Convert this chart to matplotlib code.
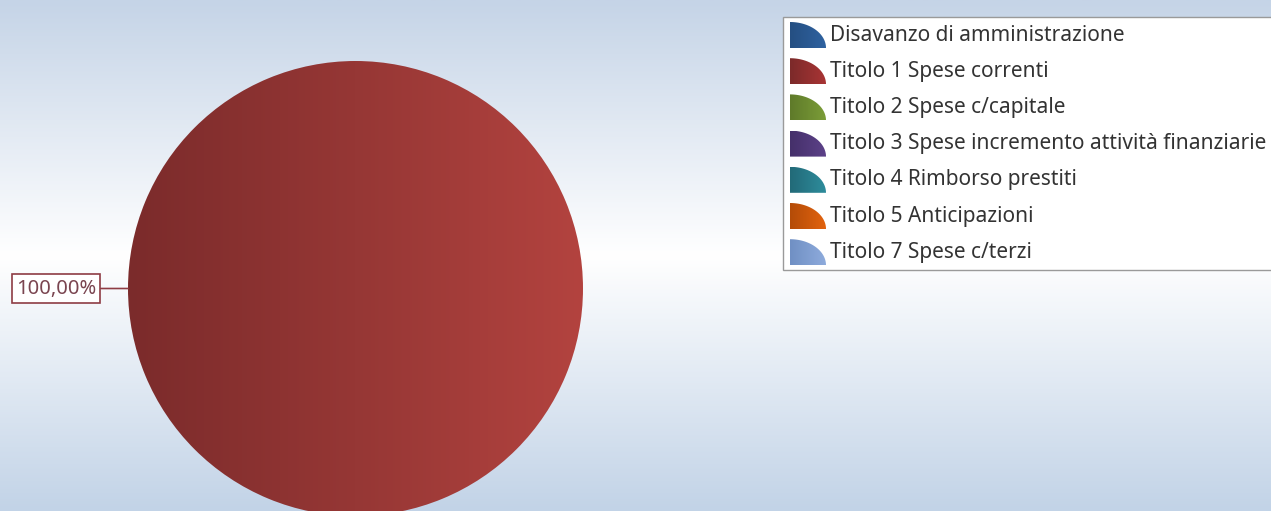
import numpy as np
import matplotlib.pyplot as plt
from matplotlib.patches import Wedge, Rectangle, Polygon
from matplotlib.colors import LinearSegmentedColormap

categories = [
    'Disavanzo di amministrazione',
    'Titolo 1 Spese correnti',
    'Titolo 2 Spese c/capitale',
    'Titolo 3 Spese incremento attività finanziarie',
    'Titolo 4 Rimborso prestiti',
    'Titolo 5 Anticipazioni',
    'Titolo 7 Spese c/terzi',
]
values = [0, 100, 0, 0, 0, 0, 0]
colors = ['#2f62a0', '#a83434', '#7b9d38', '#5c4188', '#2e8c9c', '#e2630f', '#8eabdc']
dark = ['#254f82', '#7c2a2a', '#5f7a2a', '#45306a', '#226a78', '#b44c08', '#7090c4']

W, H = 1271, 511
plt.rcParams['font.family'] = ['Noto Sans', 'DejaVu Sans']

fig = plt.figure(figsize=(W / 100, H / 100), dpi=100)
ax = fig.add_axes([0, 0, 1, 1])

# background: light blue top and bottom, white band in the middle
bg = LinearSegmentedColormap.from_list('bg', [(0, '#c2d3e7'), (0.5, '#ffffff'), (1, '#c5d4e7')])
ax.imshow(np.linspace(0, 1, 256).reshape(-1, 1), cmap=bg, aspect='auto',
          extent=(0, W, 0, H), zorder=0, origin='lower')

cx, cy, r = 355.5, 222.5, 227.5
wedges, _ = ax.pie(values, colors=colors, startangle=0, center=(cx, cy), radius=r,
                   wedgeprops=dict(linewidth=0))
ax.set_xlim(0, W)
ax.set_ylim(0, H)
ax.set_aspect('auto')
ax.axis('off')

# horizontal shading on the slices
shade = LinearSegmentedColormap.from_list('sh', ['#7b2b2b', '#963735', '#b3433f'])
for w, v in zip(wedges, values):
    if v == 0:
        continue
    w.set_facecolor('none')
    im = ax.imshow(np.linspace(0, 1, 256).reshape(1, -1), cmap=shade, aspect='auto',
                   extent=(cx - r, cx + r, cy - r, cy + r), zorder=2)
    im.set_clip_path(w)

# label for the non-zero slice
total = sum(values)
for w, v in zip(wedges, values):
    if v == 0:
        continue
    mid = np.deg2rad((w.theta1 + w.theta2) / 2)
    px, py = cx + r * np.cos(mid), cy + r * np.sin(mid)
    txt = ('%.2f%%' % (100 * v / total)).replace('.', ',')
    ax.annotate(txt, xy=(px, py), xytext=(56, py), ha='center', va='center',
                fontsize=14.5, color='#7a4550', zorder=5,
                bbox=dict(boxstyle='square,pad=0.2', fc='white', ec='#8e3c44', lw=1.2),
                arrowprops=dict(arrowstyle='-', color='#8e3c44', lw=1.2, shrinkA=0, shrinkB=0))

# legend box
lx0, ly_top, ly_bot = 783, H - 17, H - 270
ax.add_patch(Rectangle((lx0, ly_bot), W - lx0 + 10, ly_top - ly_bot, fc='white',
                       ec='#9a9a9a', lw=1, zorder=6, clip_on=False))
t = np.linspace(0, np.pi / 2, 40)
for i, (name, c, d) in enumerate(zip(categories, colors, dark)):
    yc = H - 35 - i * 36.2
    x0, y0 = 790, yc - 13
    pts = np.column_stack([x0 + 36 * np.cos(t), y0 + 26 * np.sin(t)])
    pts = np.vstack([[x0, y0], pts])
    icon = Polygon(pts, closed=True, lw=0, fc='none', zorder=7)
    ax.add_patch(icon)
    icm = LinearSegmentedColormap.from_list('ic%d' % i, [d, c])
    im = ax.imshow(np.linspace(0, 1, 64).reshape(1, -1), cmap=icm, aspect='auto',
                   extent=(x0, x0 + 36, y0, y0 + 26), zorder=7)
    im.set_clip_path(icon)
    ax.text(830, yc, name, fontsize=15, color='#333333', va='center', ha='left', zorder=8)

fig.savefig('out.png', dpi=100)
